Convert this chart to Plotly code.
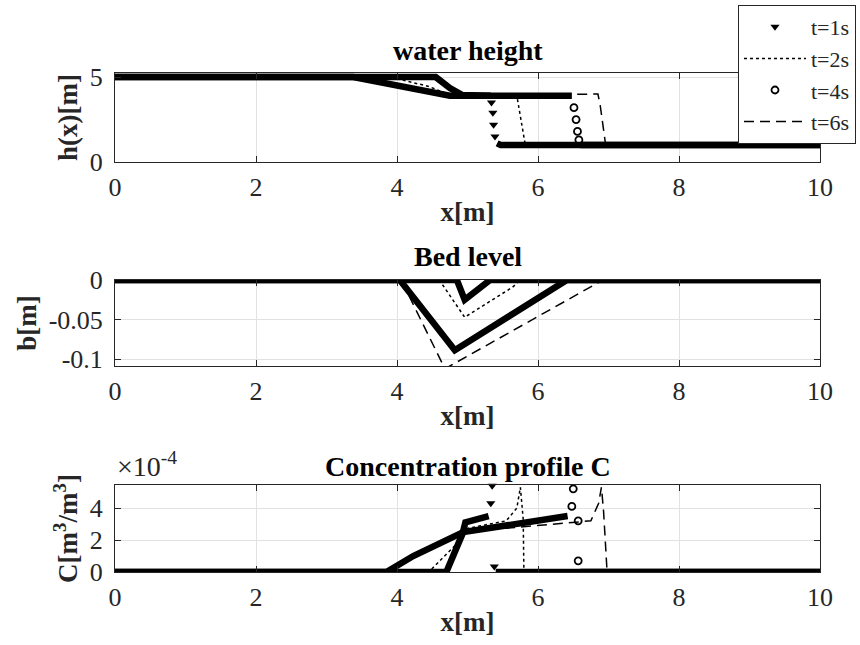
import plotly.graph_objects as go

# ---------------- data ----------------
X_TICKS = [0, 2, 4, 6, 8, 10]
X_TICKTEXT = ["0", "2", "4", "6", "8", "10"]

# water height h(x) [m]
h_t1_x = [0, 4.55, 4.75, 4.92, 5.33, None, 5.42, 5.47, 10]
h_t1_y = [5, 5, 4.35, 3.95, 3.9, None, 1.1, 1.0, 1.0]
h_t1_mx = [5.34, 5.36, 5.37, 5.39]
h_t1_my = [3.5, 2.9, 2.2, 1.5]

h_t2_x = [0, 3.9, 4.45, 4.75, 5.70, 5.82, 10]
h_t2_y = [5, 5, 4.45, 3.95, 3.9, 1.0, 1.0]

h_t4_x = [0, 3.38, 4.75, 6.48, None, 6.6, 10]
h_t4_y = [5, 5, 3.9, 3.9, None, 1.0, 1.0]
h_t4_mx = [6.51, 6.54, 6.56, 6.58]
h_t4_my = [3.2, 2.5, 1.8, 1.3]

h_t6_x = [0, 3.38, 4.75, 6.62, 6.85, 6.88, 6.96, 10]
h_t6_y = [5, 5, 3.9, 4.0, 4.0, 3.4, 1.0, 1.0]

# bed level b [m]
b_t1_x = [0, 4.85, 4.96, 5.32, 10]
b_t1_y = [0, 0, -0.025, 0, 0]
b_t2_x = [0, 4.6, 4.96, 5.64, 5.75, 10]
b_t2_y = [0, 0, -0.047, -0.009, 0, 0]
b_t4_x = [0, 4.04, 4.82, 6.41, 10]
b_t4_y = [0, 0, -0.0886, 0, 0]
b_t6_x = [0, 4.06, 4.68, 6.92, 10]
b_t6_y = [0, 0, -0.112, 0, 0]

# concentration C [x1e-4 m3/m3]
c_t1_x = [0, 4.7, 4.93, 4.97, 5.3, None, 5.4, 10]
c_t1_y = [0, 0, 2.4, 3.1, 3.5, None, 0, 0]
c_t1_mx = [5.33, 5.35, 5.38]
c_t1_my = [4.3, 5.4, 0.35]

c_t2_x = [0, 4.45, 4.9, 4.97, 5.55, 5.7, 5.75, 5.79, 5.8, 10]
c_t2_y = [0, 0, 2.0, 2.7, 3.2, 4.0, 5.3, 3.3, 0, 0]

c_t4_x = [0, 3.85, 4.23, 4.57, 4.94, 6.42, None, 6.6, 10]
c_t4_y = [0, 0, 1.0, 1.7, 2.5, 3.5, None, 0, 0]
c_t4_mx = [6.5, 6.48, 6.57, 6.57]
c_t4_my = [5.2, 4.1, 3.2, 0.7]

c_t6_x = [0, 3.85, 4.94, 6.75, 6.86, 6.9, 6.93, 6.96, 6.98, 10]
c_t6_y = [0, 0, 2.5, 3.2, 4.3, 5.3, 3.8, 1.5, 0, 0]

LEGEND_NAMES = ["t=1s", "t=2s", "t=4s", "t=6s"]

# ---------------- style ----------------
FONT = "Liberation Serif, Times New Roman, DejaVu Serif, serif"
INK = "#262626"
GRID = "#e2e2e2"
BAND_W = 6.5
TICK_SIZE = 26
LABEL_SIZE = 27
TITLE_SIZE = 28
DASH = "10px,6px"

fig = go.Figure()


def add_panel(xa, ya, t1, t1m, t2, t4, t4m, t6):
    fig.add_trace(go.Scatter(x=t6[0], y=t6[1], mode="lines", xaxis=xa, yaxis=ya,
                             line=dict(color="black", width=1.5, dash=DASH),
                             showlegend=False, connectgaps=False))
    fig.add_trace(go.Scatter(x=t2[0], y=t2[1], mode="lines", xaxis=xa, yaxis=ya,
                             line=dict(color="black", width=1.5, dash="dot"),
                             showlegend=False, connectgaps=False))
    fig.add_trace(go.Scatter(x=t4[0], y=t4[1], mode="lines", xaxis=xa, yaxis=ya,
                             line=dict(color="black", width=BAND_W),
                             showlegend=False, connectgaps=False))
    fig.add_trace(go.Scatter(x=t1[0], y=t1[1], mode="lines", xaxis=xa, yaxis=ya,
                             line=dict(color="black", width=BAND_W),
                             showlegend=False, connectgaps=False))
    if t1m is not None:
        fig.add_trace(go.Scatter(x=t1m[0], y=t1m[1], mode="markers", xaxis=xa, yaxis=ya,
                                 marker=dict(symbol="triangle-down", size=8, color="black"),
                                 showlegend=False, cliponaxis=False))
    if t4m is not None:
        fig.add_trace(go.Scatter(x=t4m[0], y=t4m[1], mode="markers", xaxis=xa, yaxis=ya,
                                 marker=dict(symbol="circle-open", size=7, color="black",
                                             line=dict(width=1.8)),
                                 showlegend=False, cliponaxis=False))


add_panel("x", "y", (h_t1_x, h_t1_y), (h_t1_mx, h_t1_my), (h_t2_x, h_t2_y),
          (h_t4_x, h_t4_y), (h_t4_mx, h_t4_my), (h_t6_x, h_t6_y))
add_panel("x2", "y2", (b_t1_x, b_t1_y), None, (b_t2_x, b_t2_y),
          (b_t4_x, b_t4_y), None, (b_t6_x, b_t6_y))
add_panel("x3", "y3", (c_t1_x, c_t1_y), (c_t1_mx, c_t1_my), (c_t2_x, c_t2_y),
          (c_t4_x, c_t4_y), (c_t4_mx, c_t4_my), (c_t6_x, c_t6_y))

# legend proxies
fig.add_trace(go.Scatter(x=[None], y=[None], mode="markers", name=LEGEND_NAMES[0],
                         marker=dict(symbol="triangle-down", size=8, color="black")))
fig.add_trace(go.Scatter(x=[None], y=[None], mode="lines", name=LEGEND_NAMES[1],
                         line=dict(color="black", width=1.5, dash="dot")))
fig.add_trace(go.Scatter(x=[None], y=[None], mode="markers", name=LEGEND_NAMES[2],
                         marker=dict(symbol="circle-open", size=7, color="black",
                                     line=dict(width=1.8))))
fig.add_trace(go.Scatter(x=[None], y=[None], mode="lines", name=LEGEND_NAMES[3],
                         line=dict(color="black", width=1.5, dash=DASH)))

H = 645.0


def dom(top_px, bot_px):
    return [1 - bot_px / H, 1 - top_px / H]


def xaxis(anchor):
    return dict(domain=[0, 1], anchor=anchor, range=[0, 10], tickvals=X_TICKS,
                ticktext=X_TICKTEXT, ticks="inside", ticklen=6, tickcolor=INK,
                mirror="allticks", showline=True, linecolor=INK, linewidth=1,
                showgrid=True, gridcolor=GRID, zeroline=False,
                tickfont=dict(family=FONT, size=TICK_SIZE, color=INK),
                ticklabelstandoff=2, automargin=False,
                title=dict(text="<b>x[m]</b>",
                           font=dict(family=FONT, size=LABEL_SIZE, color=INK),
                           standoff=0))


def yaxis(anchor, domain, rng, tickvals, ticktext, title):
    return dict(domain=domain, anchor=anchor, range=rng, tickvals=tickvals,
                ticktext=ticktext, ticks="inside", ticklen=6, tickcolor=INK,
                mirror="allticks", showline=True, linecolor=INK, linewidth=1,
                showgrid=True, gridcolor=GRID, zeroline=False,
                tickfont=dict(family=FONT, size=TICK_SIZE, color=INK),
                ticklabelstandoff=6, automargin=False,
                title=dict(text=title, font=dict(family=FONT, size=LABEL_SIZE, color=INK),
                           standoff=4))


fig.update_layout(
    width=860, height=645,
    margin=dict(l=115, r=40, t=0, b=0, autoexpand=False),
    paper_bgcolor="white", plot_bgcolor="white",
    font=dict(family=FONT, color=INK),
    xaxis=xaxis("y"), xaxis2=xaxis("y2"), xaxis3=xaxis("y3"),
    yaxis=yaxis("x", dom(73, 162), [0, 5.24], [0, 5], ["0", "5"], "<b>h(x)[m]</b>"),
    yaxis2=yaxis("x2", dom(280, 366), [-0.1085, 0], [-0.1, -0.05, 0],
                 ["-0.1", "-0.05", "0"], "<b>b[m]</b>"),
    yaxis3=yaxis("x3", dom(485, 572), [0, 5.44], [0, 2, 4], ["0", "2", "4"],
                 "<b>C[m<sup>3</sup>/m<sup>3</sup>]</b>"),
    showlegend=True,
    legend=dict(x=(856 - 115) / 705.0, xanchor="right", y=1 - 5 / H, yanchor="top",
                bgcolor="white", bordercolor=INK, borderwidth=1,
                font=dict(family=FONT, size=22, color=INK), itemwidth=62,
                tracegroupgap=0),
)

annos = [
    dict(text="<b>water height</b>", x=0.5, y=1 - 50 / H),
    dict(text="<b>Bed level</b>", x=0.5, y=1 - 257 / H),
    dict(text="<b>Concentration profile C</b>", x=0.5, y=1 - 466 / H),
]
for a in annos:
    fig.add_annotation(xref="paper", yref="paper", x=a["x"], y=a["y"], text=a["text"],
                       showarrow=False, xanchor="center", yanchor="middle",
                       font=dict(family=FONT, size=TITLE_SIZE, color="black"))
fig.add_annotation(xref="paper", yref="paper", x=0, y=1 - 465 / H, xanchor="left",
                   yanchor="middle", showarrow=False, text="×10<sup>-4</sup>",
                   font=dict(family=FONT, size=TICK_SIZE + 2, color=INK))

fig.write_html("out.html")
